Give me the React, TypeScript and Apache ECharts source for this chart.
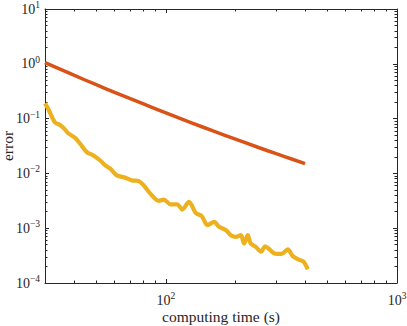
import React, { useEffect, useRef } from "react";
import * as echarts from "echarts";

const redX = [30, 40, 50, 60, 80, 100, 130, 160, 200, 250, 300, 350, 400];
const redY = [1.05, 0.619, 0.415, 0.302, 0.185, 0.127, 0.083, 0.0596, 0.0422, 0.03, 0.0229, 0.0183, 0.0151];

const yellowX = [30, 31, 33.1, 34.8, 36.1, 37.8, 40.5, 42.6, 45.5, 48.6, 52, 54.7, 57.5, 61.4, 66.8, 71.3, 76.4, 80.2, 85.7, 93.3, 98, 104.7, 111.9, 117.8, 125.9, 134.6, 142.9, 151.4, 161.8, 169.8, 182, 191, 201, 211, 218, 226, 233, 245, 258, 269, 281, 295, 316, 337, 354, 378, 394, 411];
const yellowY = [0.19, 0.15, 0.0857, 0.0767, 0.0676, 0.0541, 0.0446, 0.0347, 0.0245, 0.0212, 0.0172, 0.014, 0.0122, 0.0092, 0.00836, 0.00746, 0.00724, 0.00605, 0.00427, 0.00316, 0.00333, 0.00273, 0.00273, 0.00219, 0.00302, 0.00191, 0.00166, 0.00114, 0.0013, 0.00106, 0.00092, 0.000746, 0.000695, 0.000746, 0.000525, 0.000746, 0.000525, 0.000457, 0.000372, 0.000468, 0.00041, 0.000347, 0.000339, 0.00041, 0.000309, 0.000263, 0.000245, 0.000178];

const xMajor = [100, 1000];
const xMinor = [40, 50, 60, 70, 80, 90, 200, 300, 400, 500, 600, 700, 800, 900];
const yMajor = [1e-4, 1e-3, 1e-2, 1e-1, 1, 10];
const yMinor: number[] = [];
[1e-4, 1e-3, 1e-2, 1e-1, 1].forEach((d) => {
  for (let k = 2; k <= 9; k++) yMinor.push(+(d * k).toPrecision(3));
});

const FONT = "Liberation Serif";
const AXIS_COLOR = "#262626";

const supFmt = (v: number) => {
  const e = Math.round(Math.log10(v));
  const s = e < 0 ? "\u2212" + Math.abs(e) : String(e);
  return "{b|10}{s|" + s + "}";
};
const rich = {
  b: { fontSize: 14, fontFamily: FONT, color: AXIS_COLOR },
  s: { fontSize: 9.5, fontFamily: FONT, color: AXIS_COLOR, padding: [0, 0, 8, 0] },
};

function makeX(position: "top" | "bottom", ticks: number[], len: number, labels: boolean, line: boolean, name?: string) {
  return {
    type: "log",
    logBase: 10,
    min: 30,
    max: 1000,
    position,
    gridIndex: 0,
    name,
    nameLocation: "middle",
    nameGap: 25,
    nameMoveOverlap: false,
    nameTextStyle: { fontFamily: FONT, fontSize: 15.5, color: AXIS_COLOR },
    axisLine: { show: line, onZero: false, lineStyle: { color: AXIS_COLOR, width: 1 } },
    axisTick: { show: true, inside: true, length: len, customValues: ticks, lineStyle: { color: AXIS_COLOR, width: 1 } },
    axisLabel: labels
      ? { show: true, customValues: xMajor, formatter: supFmt, rich, margin: 8 }
      : { show: false },
    splitLine: { show: false },
    minorTick: { show: false },
  };
}

function makeY(position: "left" | "right", ticks: number[], len: number, labels: boolean, line: boolean, name?: string) {
  return {
    type: "log",
    logBase: 10,
    min: 1e-4,
    max: 10,
    position,
    gridIndex: 0,
    name,
    nameLocation: "middle",
    nameGap: 30,
    nameMoveOverlap: false,
    nameTextStyle: { fontFamily: FONT, fontSize: 15.5, color: AXIS_COLOR },
    axisLine: { show: line, onZero: false, lineStyle: { color: AXIS_COLOR, width: 1 } },
    axisTick: { show: true, inside: true, length: len, customValues: ticks, lineStyle: { color: AXIS_COLOR, width: 1 } },
    axisLabel: labels
      ? { show: true, customValues: yMajor, formatter: supFmt, rich, margin: 5 }
      : { show: false },
    splitLine: { show: false },
    minorTick: { show: false },
  };
}

export default function App() {
  const ref = useRef<HTMLDivElement>(null);
  useEffect(() => {
    if (!ref.current) return;
    const chart = echarts.init(ref.current, undefined, { renderer: "svg" });
    chart.setOption({
      animation: false,
      backgroundColor: "#ffffff",
      grid: { left: 45, right: 10, top: 9, bottom: 43, containLabel: false, outerBoundsMode: "none" },
      xAxis: [
        makeX("bottom", xMajor, 4, true, true, "computing time (s)"),
        makeX("top", xMajor, 4, false, true),
        makeX("bottom", xMinor, 2.5, false, false),
        makeX("top", xMinor, 2.5, false, false),
      ],
      yAxis: [
        makeY("left", yMajor, 4, true, true, "error"),
        makeY("right", yMajor, 4, false, true),
        makeY("left", yMinor, 2.5, false, false),
        makeY("right", yMinor, 2.5, false, false),
      ],
      series: [
        {
          type: "line",
          xAxisIndex: 0,
          yAxisIndex: 0,
          data: redX.map((x, i) => [x, redY[i]]),
          showSymbol: false,
          smooth: true,
          lineStyle: { color: "#D95319", width: 3.5 },
        },
        {
          type: "line",
          xAxisIndex: 0,
          yAxisIndex: 0,
          data: yellowX.map((x, i) => [x, yellowY[i]]),
          showSymbol: false,
          smooth: 0.3,
          lineStyle: { color: "#EDB120", width: 4.2 },
        },
      ],
    });
    return () => chart.dispose();
  }, []);
  return <div ref={ref} style={{ width: 407, height: 326, position: "absolute", left: 0, top: 0 }} />;
}
